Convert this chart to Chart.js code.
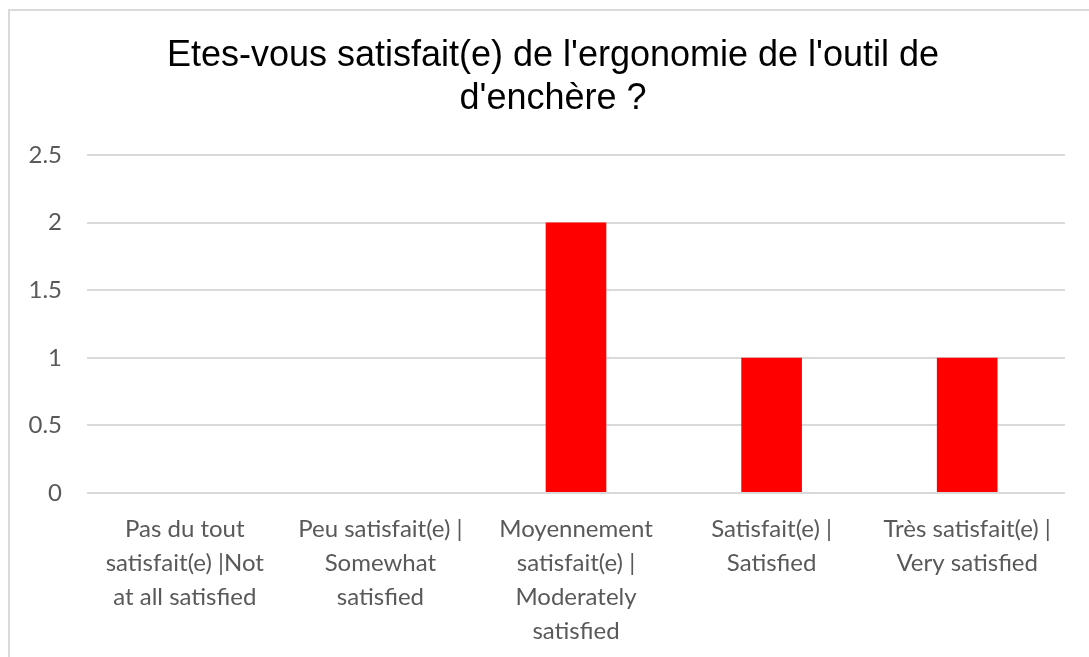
<!DOCTYPE html>
<html>
<head>
<meta charset="utf-8">
<script src="https://cdn.jsdelivr.net/npm/chart.js@4"></script>
<style>
  html, body { margin: 0; padding: 0; background: #fff; overflow: hidden; }
  #frame { position: absolute; left: 8px; top: 9px; width: 1100px; height: 700px; border: 2px solid #d9d9d9; box-sizing: border-box; }
  /* canvas is a bit wider than the window so the title centre lands right */
  #wrap { position: absolute; left: 0; top: 0; width: 1106px; height: 657px; }
</style>
</head>
<body>
<div id="frame"></div>
<div id="wrap"><canvas id="chart"></canvas></div>
<script>
// chart data
const titleLines = ["Etes-vous satisfait(e) de l'ergonomie de l'outil de", "d'enchère ?"];
const categories = [
  ['Pas du tout', 'satisfait(e) |Not', 'at all satisfied'],
  ['Peu satisfait(e) |', 'Somewhat', 'satisfied'],
  ['Moyennement', 'satisfait(e) |', 'Moderately', 'satisfied'],
  ['Satisfait(e) |', 'Satisfied'],
  ['Très satisfait(e) |', 'Very satisfied']
];
const counts = [0, 0, 2, 1, 1];
const yMin = 0, yMax = 2.5, yStep = 0.5;

const labelFamily = 'Lato, "Open Sans", sans-serif';
const gridColor = '#d9d9d9';

new Chart(document.getElementById('chart'), {
  type: 'bar',
  data: {
    labels: categories,
    datasets: [{ data: counts, backgroundColor: '#ff0000', borderWidth: 0, barPercentage: 0.62, categoryPercentage: 0.5 }]
  },
  options: {
    responsive: true,
    maintainAspectRatio: false,
    animation: false,
    layout: { padding: { top: 35, right: 0, bottom: 0, left: 0 } },
    plugins: {
      legend: { display: false },
      tooltip: { enabled: false },
      title: {
        display: true,
        text: titleLines,
        color: '#000',
        font: { family: '"Liberation Sans", Arial, sans-serif', size: 36, weight: 'normal', lineHeight: 1.18 },
        padding: { top: 0, bottom: 35 }
      }
    },
    scales: {
      x: {
        grid: { display: false },
        border: { display: false },
        ticks: { color: '#595959', font: { family: labelFamily, size: 24, lineHeight: 34 / 24 }, padding: 11, maxRotation: 0, autoSkip: false },
        afterFit: s => { s.height = 164; }
      },
      y: {
        min: yMin, max: yMax,
        grid: { color: gridColor, lineWidth: 2, drawTicks: false },
        border: { display: false },
        ticks: { stepSize: yStep, color: '#595959', font: { family: labelFamily, size: 24 }, padding: 25, callback: v => String(v) },
        afterFit: s => { s.width = 87; }
      },
      // empty spacer on the right, keeps the plot's right edge at 1065
      spacer: {
        type: 'linear',
        position: 'right',
        grid: { display: false },
        border: { display: false },
        ticks: { display: false },
        afterFit: s => { s.width = 41; }
      }
    }
  }
});
</script>
</body>
</html>
